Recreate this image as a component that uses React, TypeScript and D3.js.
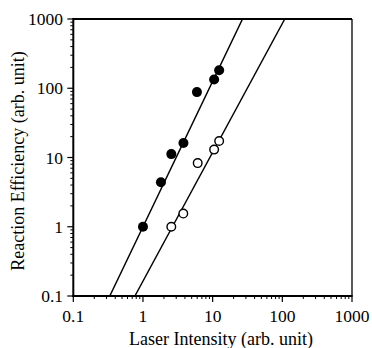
import React from "react";
import * as d3 from "d3";

// Log-log plot of reaction efficiency against laser intensity
const filledX = [1.0, 1.81, 2.55, 3.81, 5.95, 10.5, 12.4];
const filledY = [1.0, 4.38, 11.2, 16.2, 88, 134, 182];
const openX = [2.55, 3.79, 6.1, 10.5, 12.4];
const openY = [1.0, 1.55, 8.3, 13.0, 17.3];

// power-law fits y = a * x^n
const fitA = [1.0, 0.164];
const fitN = [2.1, 1.86];

const majorTicks = [0.1, 1, 10, 100, 1000];
const tickLabels = ["0.1", "1", "10", "100", "1000"];
const xTitle = "Laser Intensity (arb. unit)";
const yTitle = "Reaction Efficiency (arb. unit)";

const W = 372;
const H = 348;
const left = 73.3;
const right = 352;
const top = 19;
const bottom = 296;
const font = "'Liberation Serif', 'Times New Roman', serif";

export default function App() {
  const x = d3.scaleLog().domain([0.1, 1000]).range([left, right]);
  const y = d3.scaleLog().domain([0.1, 1000]).range([bottom, top]);

  const minor: number[] = [];
  for (let e = -1; e < 3; e++) {
    for (let k = 2; k <= 9; k++) minor.push(k * Math.pow(10, e));
  }

  const fitLines = fitA.map((a, i) => {
    const n = fitN[i];
    const x0 = Math.max(0.1, Math.pow(0.1 / a, 1 / n));
    const x1 = Math.min(1000, Math.pow(1000 / a, 1 / n));
    return [
      [x0, a * Math.pow(x0, n)],
      [x1, a * Math.pow(x1, n)],
    ] as [number, number][];
  });
  const line = d3
    .line<[number, number]>()
    .x((d) => x(d[0]))
    .y((d) => y(d[1]));

  return (
    <svg
      width={W}
      height={H}
      style={{ position: "absolute", left: 0, top: 0, background: "#fff" }}
      fontFamily={font}
    >
      {/* fitted lines */}
      {fitLines.map((pts, i) => (
        <path key={i} d={line(pts) || ""} stroke="#000" strokeWidth={1.5} fill="none" />
      ))}

      {/* data points */}
      {filledX.map((v, i) => (
        <circle key={"f" + i} cx={x(v)} cy={y(filledY[i])} r={5} fill="#000" />
      ))}
      {openX.map((v, i) => (
        <circle
          key={"o" + i}
          cx={x(v)}
          cy={y(openY[i])}
          r={4.3}
          fill="#fff"
          stroke="#000"
          strokeWidth={1.4}
        />
      ))}

      {/* frame */}
      <line x1={left} x2={right} y1={top} y2={top} stroke="#000" strokeWidth={2} />
      <line x1={right} x2={right} y1={top} y2={bottom} stroke="#000" strokeWidth={1.3} />
      <line x1={left} x2={left} y1={top - 1} y2={bottom + 1} stroke="#000" strokeWidth={2} />
      <line x1={left - 1} x2={right + 0.6} y1={bottom} y2={bottom} stroke="#000" strokeWidth={2} />

      {/* x axis ticks */}
      {majorTicks.map((t, i) => (
        <g key={"xt" + i}>
          <line x1={x(t)} x2={x(t)} y1={bottom} y2={bottom + 6} stroke="#000" strokeWidth={1.2} />
          <text x={x(t)} y={322} textAnchor="middle" fontSize={17.5}>
            {tickLabels[i]}
          </text>
        </g>
      ))}
      {minor.map((t, i) => (
        <line key={"xm" + i} x1={x(t)} x2={x(t)} y1={bottom} y2={bottom + 3} stroke="#000" strokeWidth={1} />
      ))}

      {/* y axis ticks */}
      {majorTicks.map((t, i) => (
        <g key={"yt" + i}>
          <line x1={left - 6} x2={left} y1={y(t)} y2={y(t)} stroke="#000" strokeWidth={1.2} />
          <text x={63} y={y(t) + 6} textAnchor="end" fontSize={17.5}>
            {tickLabels[i]}
          </text>
        </g>
      ))}
      {minor.map((t, i) => (
        <line key={"ym" + i} x1={left - 3} x2={left} y1={y(t)} y2={y(t)} stroke="#000" strokeWidth={1} />
      ))}

      {/* axis titles */}
      <text x={221} y={345} textAnchor="middle" fontSize={18}>
        {xTitle}
      </text>
      <text
        transform={`translate(23.5, 161) rotate(-90)`}
        textAnchor="middle"
        fontSize={18}
      >
        {yTitle}
      </text>
    </svg>
  );
}
